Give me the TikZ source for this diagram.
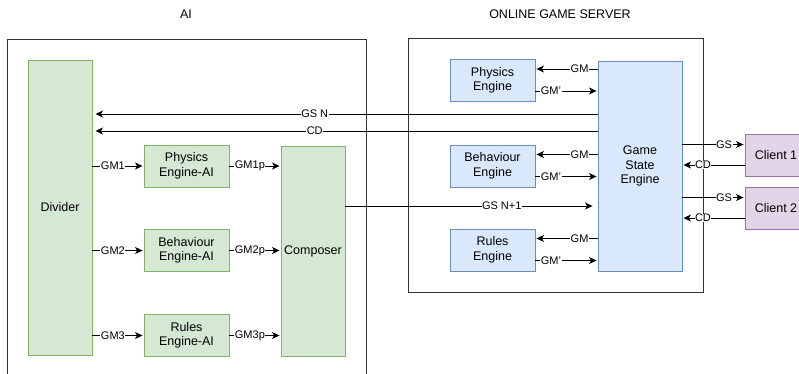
\documentclass[tikz,border=0pt]{standalone}
\usepackage{fontspec}
\setmainfont{Liberation Sans}
\usetikzlibrary{arrows.meta}
\definecolor{aifill}{HTML}{D5E8D4}
\definecolor{aidraw}{HTML}{82B366}
\definecolor{srvfill}{HTML}{DAE8FC}
\definecolor{srvdraw}{HTML}{6C8EBF}
\definecolor{clifill}{HTML}{E1D5E7}
\definecolor{clidraw}{HTML}{9673A6}
\begin{document}
\begin{tikzpicture}[x=1pt,y=-1pt,
  box/.style={draw,line width=0.9pt,minimum width=85pt,minimum height=42pt,inner sep=0pt,align=center,font=\fontsize{12.5}{14.5}\selectfont},
  ai/.style={box,fill=aifill,draw=aidraw},
  srv/.style={box,fill=srvfill,draw=srvdraw},
  cli/.style={box,fill=clifill,draw=clidraw,minimum width=62pt},
  frame/.style={draw=black!80,line width=0.9pt,anchor=north west,inner sep=0pt},
  arr/.style={-{Stealth[length=7.5pt,width=7pt,inset=2pt]},line width=1pt,shorten >=1pt},
  lbl/.style={fill=white,inner sep=0.5pt,font=\fontsize{11}{12}\selectfont}]
\useasboundingbox (0,0) rectangle (799,373);
\clip (0,0) rectangle (799,373);
% frames and titles
\node[frame,minimum width=359pt,minimum height=360pt] (aibox) at (7,39) {};
\node[frame,minimum width=295pt,minimum height=254pt] (srvbox) at (408,38) {};
\node[font=\fontsize{12.5}{14.5}\selectfont] (aititle) at (186,14) {AI};
\node[font=\fontsize{12.5}{14.5}\selectfont] (srvtitle) at (560,14) {ONLINE GAME SERVER};
% AI side
\node[ai,minimum width=64pt,minimum height=295pt] (div) at (60,207.5) {Divider};
\node[ai] (pai) at (186.5,166) {Physics\\Engine-AI};
\node[ai] (bai) at (186.5,250.5) {Behaviour\\Engine-AI};
\node[ai] (rai) at (186.5,335.5) {Rules\\Engine-AI};
\node[ai,minimum width=64pt,minimum height=210pt] (comp) at (313,251) {Composer};
% server side
\node[srv] (phys) at (492.5,80.5) {Physics\\Engine};
\node[srv] (beh) at (492.5,166) {Behaviour\\Engine};
\node[srv] (rul) at (492.5,250) {Rules\\Engine};
\node[srv,minimum width=84pt,minimum height=210pt] (gse) at (640,166) {Game\\State\\Engine};
\node[cli] (c1) at (776,155) {Client 1};
\node[cli] (c2) at (776,208) {Client 2};
\coordinate (gsn) at (0,114);
\coordinate (cd) at (0,131);
\coordinate (gsn1) at (0,206);
% AI arrows
\draw[arr] (div.east |- pai) -- node[lbl,pos=0.4] {GM1} (pai);
\draw[arr] (div.east |- bai) -- node[lbl,pos=0.4] {GM2} (bai);
\draw[arr] (div.east |- rai) -- node[lbl,pos=0.4] {GM3} (rai);
\draw[arr] (pai) -- node[lbl,pos=0.4] {GM1p} (comp.west |- pai);
\draw[arr] (bai) -- node[lbl,pos=0.4] {GM2p} (comp.west |- bai);
\draw[arr] (rai) -- node[lbl,pos=0.4] {GM3p} (comp.west |- rai);
% between AI and server
\draw[arr,shorten >=3pt] (gse.west |- gsn) -- node[lbl,pos=0.56] {GS N} (div.east |- gsn);
\draw[arr,shorten >=3pt] (gse.west |- cd) -- node[lbl,pos=0.56] {CD} (div.east |- cd);
\draw[arr,shorten >=5pt] (comp.east |- gsn1) -- node[lbl,pos=0.62] {GS N+1} (gse.west |- gsn1);
% engines
\foreach \e in {phys,beh,rul}{
  \draw[arr] ([yshift=11.5pt]\e.east -| gse.west) -- node[lbl,pos=0.29] {GM} ([yshift=11.5pt]\e.east);
  \draw[arr] ([yshift=-10.5pt]\e.east) -- node[lbl,pos=0.25] {GM'} ([yshift=-10.5pt]\e.east -| gse.west);
}
% clients
\foreach \c in {c1,c2}{
  \draw[arr] ([yshift=10.5pt]\c.west -| gse.east) -- node[lbl,pos=0.67] {GS} ([yshift=10.5pt]\c.west);
  \draw[arr] ([yshift=-10pt]\c.west) -- node[lbl,pos=0.67] {CD} ([yshift=-10pt]\c.west -| gse.east);
}
\end{tikzpicture}
\end{document}
